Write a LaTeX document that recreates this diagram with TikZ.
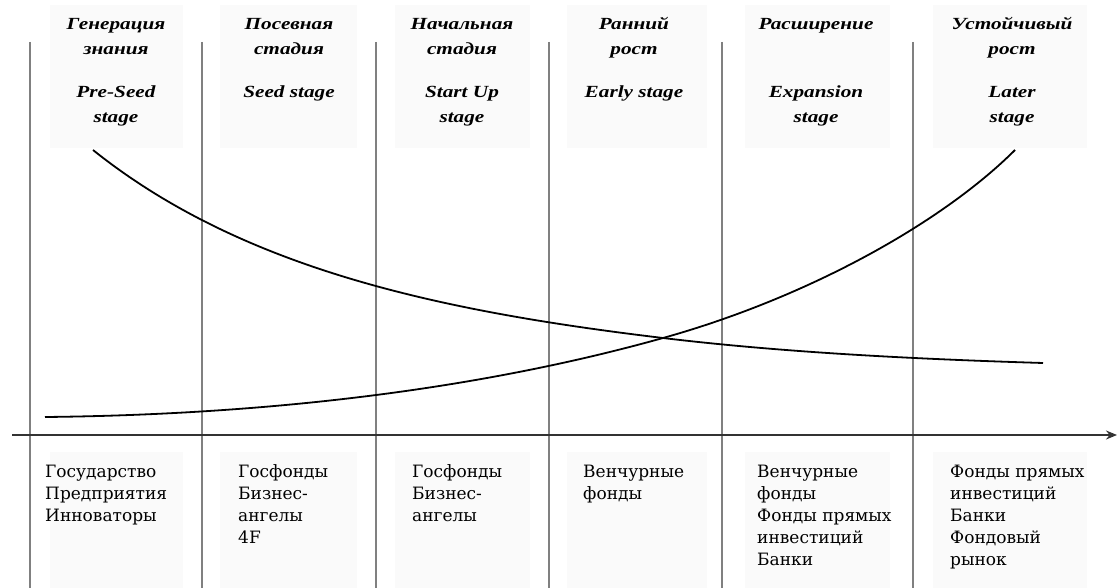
\documentclass[tikz,border=0pt]{standalone}
\usepackage{fontspec}
\setmainfont{DejaVu Serif}
\newfontfamily\hdrfont{Liberation Serif}[FakeStretch=1.25]
\usetikzlibrary{arrows.meta}
\begin{document}
\begin{tikzpicture}[x=1pt,y=-1pt,
  vline/.style={draw=black!50, line width=1.8pt},
  axisline/.style={draw=black!80, line width=1.8pt, -{Stealth[length=11pt,width=9pt]}},
  curveline/.style={draw=black, line width=1.8pt},
  hdr/.style={font=\hdrfont\fontsize{17}{25}\selectfont\bfseries\itshape, align=center, anchor=base, inner sep=0pt},
  fund/.style={font=\fontsize{17}{22}\selectfont, align=left, anchor=base west, inner sep=0pt},
  shadebox/.style={fill=black!2, draw=none}]
\useasboundingbox (0,0) rectangle (1117,588);
% faint backgrounds
\foreach \a/\b in {50/183,220/357,395/530,567/707,745/890,933/1087}{
  \fill[shadebox] (\a,5) rectangle (\b,148);
  \fill[shadebox] (\a,452) rectangle (\b,588);
}
% vertical separators
\foreach \x in {30,202,376,549,722,913}
  \draw[vline] (\x,42) -- (\x,588);
% axis
\coordinate (axS) at (12,435);
\coordinate (axE) at (1117,435);
\draw[axisline] (axS) -- (axE);
% curves
\coordinate (dS) at (93,150);
\coordinate (X) at (663,338);
\coordinate (dE) at (1043,363);
\coordinate (uS) at (45,417);
\coordinate (uE) at (1015,150);
\draw[curveline] (dS) .. controls (243,270) and (443,311.6) .. (X)
                      .. controls (783,352.4) and (913,359) .. (dE);
\draw[curveline] (uS) .. controls (245,415) and (463,394) .. (X)
                      .. controls (813,296) and (945,220) .. (uE);
% headers (anchor = baseline of last line)
\node[hdr] (h1ru) at (116,55) {Генерация\\знания};
\node[hdr] (h1en) at (116,123) {Pre-Seed\\stage};
\node[hdr] (h2ru) at (289,55) {Посевная\\стадия};
\node[hdr] (h2en) at (289,98) {Seed stage};
\node[hdr] (h3ru) at (462,55) {Начальная\\стадия};
\node[hdr] (h3en) at (462,123) {Start Up\\stage};
\node[hdr] (h4ru) at (634,55) {Ранний\\рост};
\node[hdr] (h4en) at (634,98) {Early stage};
\node[hdr] (h5ru) at (816,30) {Расширение};
\node[hdr] (h5en) at (816,123) {Expansion\\stage};
\node[hdr] (h6ru) at (1012,55) {Устойчивый\\рост};
\node[hdr] (h6en) at (1012,123) {Later\\stage};
% funding sources (anchor = baseline of last line)
\node[fund] (f1) at (45,521) {Государство\\Предприятия\\Инноваторы};
\node[fund] (f2) at (238,543) {Госфонды\\Бизнес-\\ангелы\\4F};
\node[fund] (f3) at (412,521) {Госфонды\\Бизнес-\\ангелы};
\node[fund] (f4) at (583,499) {Венчурные\\фонды};
\node[fund] (f5) at (757,565) {Венчурные\\фонды\\Фонды прямых\\инвестиций\\Банки};
\node[fund] (f6) at (950,565) {Фонды прямых\\инвестиций\\Банки\\Фондовый\\рынок};
\end{tikzpicture}
\end{document}
